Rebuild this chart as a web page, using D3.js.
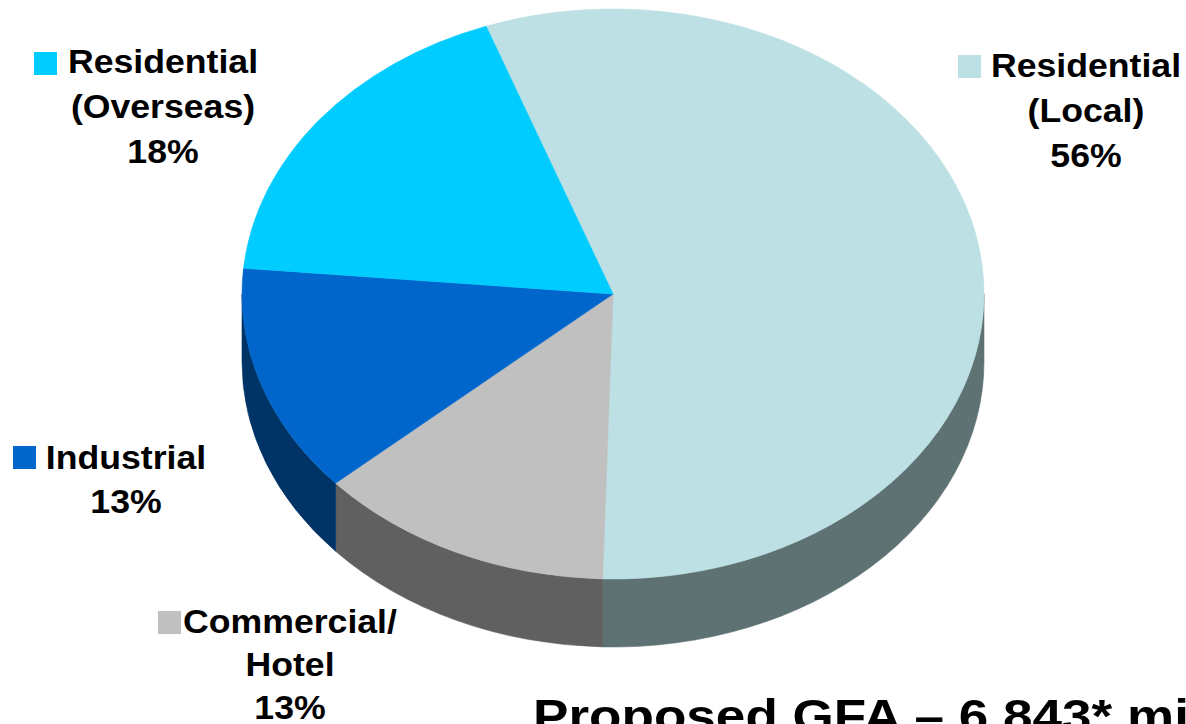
<!DOCTYPE html>
<html>
<head>
<meta charset="utf-8">
<script src="https://cdn.jsdelivr.net/npm/d3@7"></script>
<style>
  html, body { margin: 0; padding: 0; background: #ffffff; }
  svg { display: block; }
  text { font-family: "Liberation Sans", Arial, sans-serif; font-weight: bold; fill: #000; }
</style>
</head>
<body>
<svg id="chart" width="1186" height="724"></svg>
<script>
// Share of proposed gross floor area by use
const categories = ["Residential (Local)", "Commercial/ Hotel", "Industrial", "Residential (Overseas)"];
const shares = [56, 13, 13, 18];
const labelLines = [["Residential", "(Local)"], ["Commercial/", "Hotel"], ["Industrial"], ["Residential", "(Overseas)"]];
const titleText = "Proposed GFA \u2013 6,843* million sq ft";

// Palette: top face and side wall per slice
const topColors = ["#BCE0E3", "#C0C0C0", "#0066CC", "#00CCFF"];
const sideColors = ["#5E7273", "#606060", "#003366", "#007A99"];

// Layout of the tilted disc
const cx = 613, cy = 294, rx = 371, ry = 285, depth = 68;
const startDeg = -20;

// Label placement: text column centre, first baseline, line step, key square corner
const labelLayout = [
  { cx: 1086, y: 77, step: 45, sqX: 958, sqY: 55 },
  { cx: 290, y: 633, step: 43, sqX: 158, sqY: 611 },
  { cx: 126, y: 469, step: 44, sqX: 13, sqY: 446 },
  { cx: 163, y: 73, step: 45, sqX: 34, sqY: 52 }
];
const fontSize = 33, stretch = 1.08, sq = 23;

const svg = d3.select("#chart");

const data = categories.map((c, i) => ({ category: c, value: shares[i], i }));
const a0 = startDeg * Math.PI / 180;
const pie = d3.pie().sort(null).value(d => d.value).startAngle(a0).endAngle(a0 + 2 * Math.PI);
const arcs = pie(data);

// Point on the top ellipse; angle 0 at 12 o'clock, increasing clockwise
const pt = (a, dy = 0) => [cx + rx * Math.sin(a), cy - ry * Math.cos(a) + dy];

function topPath(d) {
  const p0 = pt(d.startAngle), p1 = pt(d.endAngle);
  const large = d.endAngle - d.startAngle > Math.PI ? 1 : 0;
  return `M${cx},${cy}L${p0[0]},${p0[1]}A${rx},${ry} 0 ${large} 1 ${p1[0]},${p1[1]}Z`;
}

function sidePath(d) {
  const s0 = Math.max(d.startAngle, Math.PI / 2);
  const s1 = Math.min(d.endAngle, 3 * Math.PI / 2);
  if (s1 <= s0) return null;
  const p0 = pt(s0), p1 = pt(s1), q1 = pt(s1, depth), q0 = pt(s0, depth);
  return `M${p0[0]},${p0[1]}A${rx},${ry} 0 0 1 ${p1[0]},${p1[1]}` +
         `L${q1[0]},${q1[1]}A${rx},${ry} 0 0 0 ${q0[0]},${q0[1]}Z`;
}

// Outer walls (front half only)
svg.append("g").selectAll("path")
  .data(arcs.filter(d => sidePath(d)))
  .join("path")
  .attr("d", sidePath)
  .attr("fill", d => sideColors[d.data.i])
  .attr("stroke", d => sideColors[d.data.i])
  .attr("stroke-width", 0.6);

// Top faces
svg.append("g").selectAll("path")
  .data(arcs)
  .join("path")
  .attr("d", topPath)
  .attr("fill", d => topColors[d.data.i])
  .attr("stroke", d => topColors[d.data.i])
  .attr("stroke-width", 0.6);

// Category labels with key squares
const labels = svg.append("g").selectAll("g")
  .data(data)
  .join("g");

labels.append("rect")
  .attr("x", d => labelLayout[d.i].sqX)
  .attr("y", d => labelLayout[d.i].sqY)
  .attr("width", sq)
  .attr("height", sq)
  .attr("fill", d => topColors[d.i]);

labels.each(function (d) {
  const L = labelLayout[d.i];
  const lines = labelLines[d.i].concat([`${d.value}%`]);
  d3.select(this).selectAll("text")
    .data(lines)
    .join("text")
    .attr("transform", (t, k) => `translate(${L.cx},${L.y + k * L.step}) scale(${stretch},1)`)
    .attr("text-anchor", "middle")
    .attr("font-size", fontSize)
    .text(t => t);
});

// Footer headline
svg.append("text")
  .attr("transform", "translate(533,732) scale(1.13,1)")
  .attr("font-size", 47)
  .text(titleText);
</script>
</body>
</html>
